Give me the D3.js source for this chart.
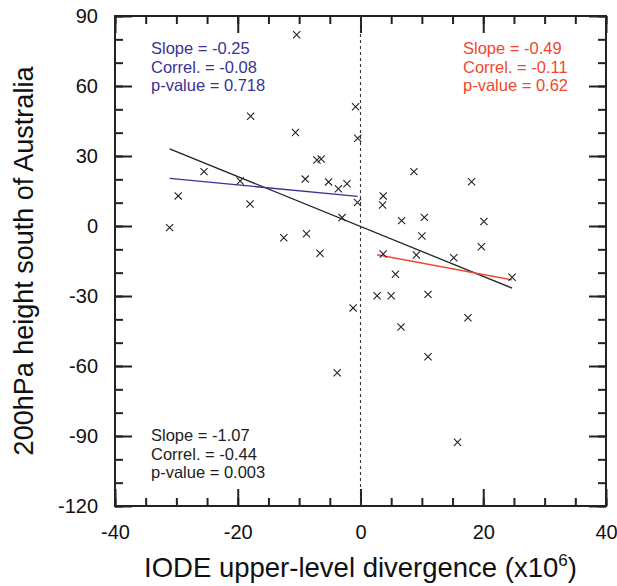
<!DOCTYPE html>
<html>
<head>
<meta charset="utf-8">
<script src="https://cdn.jsdelivr.net/npm/d3@7"></script>
<style>
  body { margin: 0; background: #fff; }
  text { font-family: "Liberation Sans", Arial, Helvetica, sans-serif; }
</style>
</head>
<body>
<div id="vis"></div>
<script>
// datos (IODE divergence vs 200hPa height)
const divergencia = [-10.4, -17.9, -10.6, -0.8, -0.45, -7.1, -6.4, -25.5, -19.6, -9.0,
    -5.2, -3.6, -2.2, -29.7, -18.0, -31.1, -3.0, -0.5, -12.5, -8.8,
    -6.6, -1.2, -3.8, 8.7, 18.1, 3.7, 3.6, 6.7, 10.4, 20.1,
    10.0, 19.7, 3.7, 9.1, 15.2, 5.7, 24.7, 2.7, 5.0, 11.0,
    17.5, 6.6, 11.0, 15.8];
const altura = [82.0, 47.0, 40.1, 51.1, 37.6, 28.3, 28.7, 23.3, 19.3, 20.1,
    18.9, 16.0, 18.1, 12.9, 9.4, -0.7, 3.6, 10.1, -5.0, -3.3,
    -11.7, -35.1, -62.9, 23.3, 19.0, 12.9, 9.0, 2.3, 3.7, 1.9,
    -4.3, -8.9, -12.0, -12.4, -13.6, -20.7, -22.0, -29.9, -29.9, -29.3,
    -39.3, -43.3, -56.0, -92.7];

// regresiones: todos, x<0, x>0
const grupos = ["todos", "negativos", "positivos"];
const pendientes = [-1.07, -0.25, -0.49];
const interceptos = [-0.2, 12.6, -11.0];
const correlaciones = ["-0.44", "-0.08", "-0.11"];
const pvalores = ["0.003", "0.718", "0.62"];
const colores = ["#222222", "#3b3196", "#f0472e"];

const xTicks = [-40, -20, 0, 20, 40];
const yTicks = [90, 60, 30, 0, -30, -60, -90, -120];

const WIDTH = 617;
const HEIGHT = 586;
const margin = { left: 115, right: 11, top: 16, bottom: 80 };
const innerW = WIDTH - margin.left - margin.right;
const innerH = HEIGHT - margin.top - margin.bottom;

const SVG = d3.select("#vis").append("svg")
    .attr("width", WIDTH)
    .attr("height", HEIGHT);

const g = SVG.append("g")
    .attr("transform", `translate(${margin.left},${margin.top})`);

const x = d3.scaleLinear().domain([-40, 40]).range([0, innerW]);
const y = d3.scaleLinear().domain([-120, 90]).range([innerH, 0]);

const xMenores = d3.range(-40, 40.1, 5);
const yMenores = d3.range(-120, 90.1, 10);

// guion normal en vez del signo menos unicode
const formato = d => String(d);

// ejes con ticks hacia adentro en los cuatro lados
function estiloEje(sel) {
    sel.select(".domain").remove();
    sel.selectAll("line").attr("stroke", "#222").attr("stroke-width", 2);
    sel.selectAll("text").attr("font-size", "20px").attr("fill", "#111");
}

g.append("g").attr("transform", `translate(0,${innerH})`)
    .call(d3.axisBottom(x).tickValues(xMenores).tickSize(-8).tickFormat(""))
    .call(estiloEje);
g.append("g").attr("transform", `translate(0,${innerH})`)
    .call(d3.axisBottom(x).tickValues(xTicks).tickSize(-17).tickPadding(19).tickFormat(formato))
    .call(estiloEje);
g.append("g")
    .call(d3.axisTop(x).tickValues(xMenores).tickSize(-8).tickFormat(""))
    .call(estiloEje);
g.append("g")
    .call(d3.axisTop(x).tickValues(xTicks).tickSize(-17).tickFormat(""))
    .call(estiloEje);

g.append("g")
    .call(d3.axisLeft(y).tickValues(yMenores).tickSize(-8).tickFormat(""))
    .call(estiloEje);
g.append("g")
    .call(d3.axisLeft(y).tickValues(yTicks).tickSize(-17).tickPadding(17).tickFormat(formato))
    .call(estiloEje);
g.append("g").attr("transform", `translate(${innerW},0)`)
    .call(d3.axisRight(y).tickValues(yMenores).tickSize(-8).tickFormat(""))
    .call(estiloEje);
g.append("g").attr("transform", `translate(${innerW},0)`)
    .call(d3.axisRight(y).tickValues(yTicks).tickSize(-17).tickFormat(""))
    .call(estiloEje);

// linea punteada en x = 0
g.append("line")
    .attr("x1", x(0)).attr("x2", x(0))
    .attr("y1", 0).attr("y2", innerH)
    .attr("stroke", "#333")
    .attr("stroke-width", 1.1)
    .attr("stroke-dasharray", "3,3");

// marco
g.append("rect")
    .attr("x", 0).attr("y", 0)
    .attr("width", innerW).attr("height", innerH)
    .attr("fill", "none")
    .attr("stroke", "#222")
    .attr("stroke-width", 2);

const puntos = divergencia.map((d, i) => ({ x: d, y: altura[i] }));

// rectas de regresion sobre el rango de cada grupo
const subconjuntos = [
    puntos,
    puntos.filter(p => p.x < 0),
    puntos.filter(p => p.x > 0)
];

grupos.forEach((nombre, i) => {
    const [x0, x1] = d3.extent(subconjuntos[i], p => p.x);
    g.append("line")
        .attr("class", "recta-" + nombre)
        .attr("x1", x(x0)).attr("y1", y(interceptos[i] + pendientes[i] * x0))
        .attr("x2", x(x1)).attr("y2", y(interceptos[i] + pendientes[i] * x1))
        .attr("stroke", colores[i])
        .attr("stroke-width", 1.3);
});

// cruces
const tam = 3.6;
const cruces = g.selectAll(".cruz")
    .data(puntos)
    .enter()
    .append("path")
    .attr("class", "cruz")
    .attr("d", p => {
        const cx = x(p.x), cy = y(p.y);
        return `M${cx - tam},${cy - tam}L${cx + tam},${cy + tam}M${cx - tam},${cy + tam}L${cx + tam},${cy - tam}`;
    })
    .attr("stroke", "#222")
    .attr("stroke-width", 1.1)
    .attr("fill", "none");

// textos de estadisticos
const posTextos = [[36, 425], [36, 38], [348, 38]];
grupos.forEach((nombre, i) => {
    const t = g.append("text")
        .attr("x", posTextos[i][0])
        .attr("y", posTextos[i][1])
        .attr("font-size", "16.5px")
        .attr("fill", colores[i]);
    const lineas = [
        `Slope = ${pendientes[i].toFixed(2)}`,
        `Correl. = ${correlaciones[i]}`,
        `p-value = ${pvalores[i]}`
    ];
    lineas.forEach((l, j) => {
        t.append("tspan")
            .attr("x", posTextos[i][0])
            .attr("dy", j === 0 ? 0 : 18.7)
            .text(l);
    });
});

// titulos de ejes
const tituloX = SVG.append("text")
    .attr("x", margin.left + innerW / 2)
    .attr("y", 577)
    .attr("text-anchor", "middle")
    .attr("font-size", "27.5px")
    .attr("fill", "#111");
tituloX.append("tspan").text("IODE upper-level divergence (x10");
tituloX.append("tspan").attr("dy", -11).attr("font-size", "17px").text("6");
tituloX.append("tspan").attr("dy", 11).text(")");

SVG.append("text")
    .attr("transform", `translate(33,${margin.top + innerH / 2}) rotate(-90)`)
    .attr("text-anchor", "middle")
    .attr("font-size", "27px")
    .attr("fill", "#111")
    .text("200hPa height south of Australia");
</script>
</body>
</html>
